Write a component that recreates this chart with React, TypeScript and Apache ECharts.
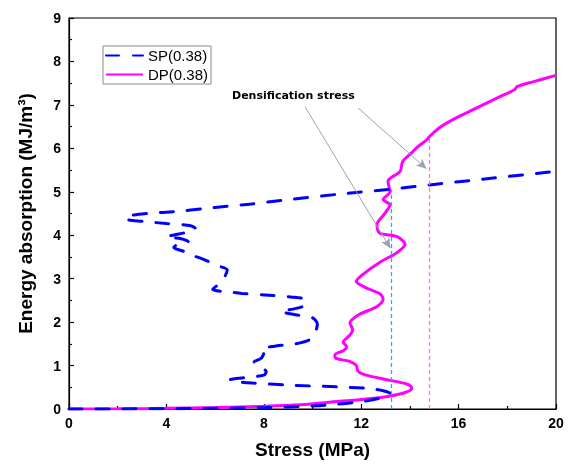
import React, { useEffect, useRef } from "react";
import * as echarts from "echarts";

const xTicks = { min: 0, max: 20, interval: 4 };
const yTicks = { min: 0, max: 9, interval: 1 };

const spData: number[][] = [
  [0, 0], [2, 0.002], [4, 0.006], [6, 0.015], [8, 0.03], [10, 0.07], [11, 0.11], [12, 0.17], [12.7, 0.24], [13.2, 0.35],
  [12.5, 0.46], [11, 0.51], [9, 0.55], [7.5, 0.6], [6.8, 0.63], [6.6, 0.67], [7.2, 0.72], [8.0, 0.78], [8.1, 0.86],
  [7.8, 0.98], [7.6, 1.08], [7.9, 1.17], [8.0, 1.3], [7.9, 1.38], [8.5, 1.45], [9.3, 1.5], [9.9, 1.6], [10.1, 1.75],
  [10.2, 1.95], [10.0, 2.1], [9.3, 2.17], [8.7, 2.25], [9.2, 2.3], [9.7, 2.4], [9.7, 2.52], [9.1, 2.58], [8.2, 2.62],
  [7.1, 2.66], [6.5, 2.7], [5.9, 2.75], [6.2, 2.9], [6.4, 3.05], [6.5, 3.2], [6.1, 3.3], [5.5, 3.45], [5.0, 3.55],
  [4.7, 3.63], [4.3, 3.72], [4.5, 3.8], [4.9, 3.85], [4.6, 3.92], [4.0, 3.96], [4.5, 4.03], [5.0, 4.08], [5.2, 4.15],
  [5.0, 4.22], [4.0, 4.27], [3.0, 4.32], [2.3, 4.38], [2.4, 4.44], [3.2, 4.5], [4.5, 4.55], [5.5, 4.61], [6.5, 4.67],
  [7.5, 4.72], [9, 4.82], [11, 4.94], [13.2, 5.06], [15, 5.17], [17, 5.29], [20, 5.47],
];

const dpData: number[][] = [
  [0, 0], [2, 0.004], [4, 0.015], [6, 0.035], [8, 0.065], [9.5, 0.1], [11, 0.17], [12.2, 0.23], [13.2, 0.3], [13.8, 0.38],
  [14.08, 0.48], [13.9, 0.57], [12.9, 0.69], [12.2, 0.78], [11.87, 0.87], [11.8, 1.0], [11.5, 1.1], [10.95, 1.17],
  [10.92, 1.25], [11.3, 1.35], [11.4, 1.43], [11.26, 1.54], [11.5, 1.68], [11.65, 1.82], [11.54, 1.98], [11.9, 2.17],
  [12.65, 2.36], [12.9, 2.53], [12.77, 2.65], [12.16, 2.8], [11.8, 2.94], [12.07, 3.1], [12.77, 3.38], [13.47, 3.6],
  [13.8, 3.79], [13.47, 3.97], [12.75, 4.05], [12.65, 4.25], [12.9, 4.45], [13.18, 4.7], [12.9, 4.82], [13.18, 5.0],
  [13.1, 5.24], [13.6, 5.47], [13.7, 5.69], [14.08, 5.9], [14.33, 6.04], [14.7, 6.2], [14.8, 6.27], [15.2, 6.47],
  [15.9, 6.7], [16.6, 6.89], [17.7, 7.19], [18.3, 7.35], [18.4, 7.42], [19.05, 7.53], [20, 7.68],
];

const spDensification = [13.22, 5.05];
const dpDensification = [14.78, 6.25];
const arrowSP = [[9.69, 6.96], [13.2, 3.7]];
const arrowDP = [[11.87, 6.93], [14.68, 5.53]];
const annotationText = "Densification stress";

export default function App() {
  const ref = useRef<HTMLDivElement>(null);
  useEffect(() => {
    const chart = echarts.init(ref.current!, null, { renderer: "svg" });
    const arrowStyle = { color: "#9aa1b2", width: 1, type: "solid" as const };
    const font = "Liberation Sans, Arial";
    chart.setOption({
      animation: false,
      grid: { left: 69, top: 18, right: 17, bottom: 54, show: true, borderColor: "#000", borderWidth: 1.2 },
      legend: {
        left: 103, top: 46, orient: "vertical", itemWidth: 37, itemHeight: 14, itemGap: 4,
        padding: [2, 3, 2, 2], borderColor: "#888", borderWidth: 1,
        itemStyle: { opacity: 0 },
        textStyle: { fontSize: 15, fontFamily: font, color: "#000" },
        data: ["SP(0.38)", "DP(0.38)"],
      },
      xAxis: {
        type: "value", ...xTicks,
        name: "Stress (MPa)", nameLocation: "middle", nameGap: 31,
        nameTextStyle: { fontSize: 19, fontWeight: "bold", fontFamily: font, color: "#000" },
        axisLine: { lineStyle: { color: "#000", width: 1.2 } },
        axisTick: { inside: true, length: 5, lineStyle: { color: "#000", width: 1.2 } },
        minorTick: { show: true, splitNumber: 2, length: 3, lineStyle: { color: "#000", width: 1.2 } },
        splitLine: { show: false },
        axisLabel: { fontSize: 14, fontWeight: "bold", fontFamily: font, color: "#000", margin: 7 },
      },
      yAxis: {
        type: "value", ...yTicks,
        name: "Energy absorption (MJ/m³)", nameLocation: "middle", nameGap: 34,
        nameTextStyle: { fontSize: 19, fontWeight: "bold", fontFamily: font, color: "#000" },
        axisLine: { lineStyle: { color: "#000", width: 1.2 } },
        axisTick: { inside: true, length: 5, lineStyle: { color: "#000", width: 1.2 } },
        minorTick: { show: true, splitNumber: 2, length: 3, lineStyle: { color: "#000", width: 1.2 } },
        splitLine: { show: false },
        axisLabel: { fontSize: 14, fontWeight: "bold", fontFamily: font, color: "#000", margin: 8 },
      },
      series: [
        {
          name: "SP(0.38)", type: "line", data: spData, symbol: "none", smooth: 0.3, z: 3,
          lineStyle: { color: "#0000ff", width: 3, type: [13, 14], cap: "round" },
          itemStyle: { color: "#0000ff" },
          markLine: {
            silent: true, symbol: ["none", "none"], label: { show: false },
            data: [
              [
                { coord: [spDensification[0], 0], lineStyle: { color: "#22aaff", width: 1.3, type: [4, 3] } },
                { coord: [spDensification[0], spDensification[1]] },
              ],
              [
                { coord: arrowSP[0], symbol: "none", lineStyle: arrowStyle },
                { coord: arrowSP[1], symbol: "arrow", symbolSize: [7, 10] },
              ],
            ],
          },
        },
        {
          name: "DP(0.38)", type: "line", data: dpData, symbol: "none", smooth: 0.3, z: 2,
          lineStyle: { color: "#ff00ff", width: 3 },
          itemStyle: { color: "#ff00ff" },
          markLine: {
            silent: true, symbol: ["none", "none"], label: { show: false },
            data: [
              [
                { coord: [dpDensification[0], 0], lineStyle: { color: "#ff70e0", width: 1.3, type: [4, 3] } },
                { coord: [dpDensification[0], dpDensification[1]] },
              ],
              [
                { coord: arrowDP[0], symbol: "none", lineStyle: arrowStyle },
                { coord: arrowDP[1], symbol: "arrow", symbolSize: [7, 10] },
              ],
            ],
          },
        },
      ],
      graphic: [
        {
          type: "text", left: 232, top: 90,
          style: { text: annotationText, fill: "#000", font: "bold 11px 'DejaVu Sans', Verdana" },
        },
      ],
    });
    return () => chart.dispose();
  }, []);
  return <div ref={ref} style={{ position: "fixed", left: 0, top: 0, width: 573, height: 464 }} />;
}
